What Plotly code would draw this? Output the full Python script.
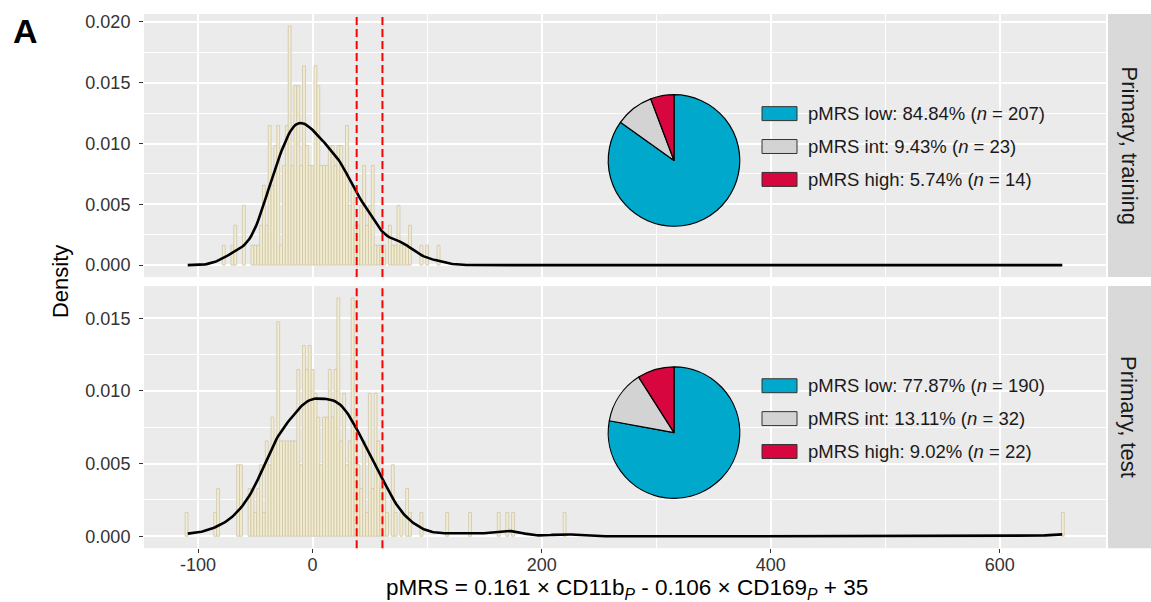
import numpy as np
import plotly.graph_objects as go

W, H = 1151, 602
BIN_WIDTH = 2.5

# Training cohort: patients per 2.5-wide pMRS bin, first bin centred at -77.5
train_bin_start = -77.5
train_counts = [1, 0, 0, 1, 2, 0, 0, 3,
                0, 0, 1, 1, 1, 2, 4, 2,
                7, 4, 6, 7, 1, 5, 7, 12,
                5, 9, 9, 5, 10, 6, 5, 5,
                10, 9, 5, 5, 5, 6, 6, 5,
                6, 6, 5, 7, 3, 4, 2, 2,
                3, 5, 2, 3, 5, 1, 1, 1,
                1, 0, 2, 1, 1, 3, 1, 1,
                1, 2, 0, 0, 0, 1, 0, 1,
                0, 0, 0, 1]

# Test cohort: first bin centred at -110, plus a few isolated high scores
test_bin_start = -110.0
test_counts = [1, 0, 0, 0, 0, 0, 0, 0,
               0, 0, 1, 2, 0, 0, 0, 0,
               0, 0, 3, 3, 0, 0, 2, 2,
               1, 2, 3, 1, 4, 3, 5, 4,
               9, 4, 4, 4, 4, 4, 4, 7,
               3, 8, 7, 8, 7, 6, 5, 3,
               5, 5, 7, 5, 7, 10, 4, 6,
               3, 4, 10, 5, 3, 2, 4, 1,
               6, 2, 6, 4, 2, 2, 1, 0,
               3, 1, 0, 1, 0, 2, 1, 0,
               0, 0, 1, 0, 0, 0, 0, 0,
               0, 0, 0, 1, 0, 0, 0, 0,
               0, 0, 0, 1]
test_far_bins = [162.5, 170.0, 175.0, 220.0, 655.0]
test_far_counts = [1, 1, 1, 1, 1]

# observed pMRS range over both cohorts; density curves span it
pmrs_min, pmrs_max = -109.0, 654.5
cutoffs = [38.5, 61.0]

group_labels = ["pMRS low", "pMRS int", "pMRS high"]
group_colors = ["#00A8CC", "#D3D3D3", "#D7063F"]
train_group_n = [207, 23, 14]
test_group_n = [190, 32, 22]

panel_titles = ["Primary, training", "Primary, test"]
x_breaks = [-100, 0, 200, 400, 600]
x_minor = [100, 300, 500]

FONT = "Liberation Sans, Arial, Helvetica, sans-serif"
TXT = "#333333"

# panel boxes in pixels: (left, right, top, bottom)
panels = [(144, 1106, 12, 276), (144, 1106, 285, 548)]
pie_boxes = [(674, 159, 66), (674, 432, 66)]
legend_rows = [[112, 145, 178], [385, 418, 451]]


def px(x):
    return x / W


def py(y):
    return 1 - y / H


def binned(start, counts, far_c=(), far_n=()):
    c = start + BIN_WIDTH * np.arange(len(counts))
    c = np.concatenate([c, np.asarray(far_c, float)])
    n = np.concatenate([np.asarray(counts, float), np.asarray(far_n, float)])
    return c, n


def kde(sample, grid):
    sd = sample.std(ddof=1)
    q75, q25 = np.percentile(sample, [75, 25])
    bw = 0.9 * min(sd, (q75 - q25) / 1.34) * len(sample) ** -0.2
    z = (grid[:, None] - sample[None, :]) / bw
    return np.exp(-0.5 * z ** 2).sum(1) / (len(sample) * bw * np.sqrt(2 * np.pi))


cohorts = [
    binned(train_bin_start, train_counts),
    binned(test_bin_start, test_counts, test_far_bins, test_far_counts),
]
group_ns = [train_group_n, test_group_n]

grid = np.linspace(pmrs_min, pmrs_max, 512)
span = pmrs_max - pmrs_min
x_range = [pmrs_min - 0.05 * span, pmrs_max + 0.05 * span]

fig = go.Figure()
layout_axes = {}
shapes = []
annotations = []

for i, (centers, counts) in enumerate(cohorts):
    k = "" if i == 0 else "2"
    total = counts.sum()
    dens = counts / (total * BIN_WIDTH)
    sample = np.repeat(centers, counts.astype(int))
    curve = kde(sample, grid)
    keep = counts > 0

    fig.add_trace(go.Bar(
        x=centers[keep], y=dens[keep], width=BIN_WIDTH,
        marker=dict(color="#F3ECCF", line=dict(color="#C8C1A6", width=0.7)),
        xaxis="x" + k, yaxis="y" + k, showlegend=False, hoverinfo="skip",
    ))
    fig.add_trace(go.Scatter(
        x=grid, y=curve, mode="lines", line=dict(color="black", width=2.6),
        xaxis="x" + k, yaxis="y" + k, showlegend=False, hoverinfo="skip",
    ))

    ymax = max(dens.max(), curve.max())
    y_range = [-0.05 * ymax, 1.05 * ymax]
    y_ticks = [v for v in np.arange(0, 0.0201, 0.005) if v <= y_range[1]]
    y_minor = [v for v in np.arange(0.0025, 0.0226, 0.005) if v <= y_range[1]]

    l, r, t, b = panels[i]
    layout_axes["xaxis" + k] = dict(
        domain=[px(l), px(r)], range=x_range, anchor="y" + k,
        tickmode="array", tickvals=x_breaks, ticktext=[str(v) for v in x_breaks],
        showticklabels=(i == 1), ticks="outside" if i == 1 else "",
        ticklen=4, tickwidth=1, tickcolor=TXT, ticklabelstandoff=-4,
        tickfont=dict(family=FONT, size=18, color=TXT),
        showgrid=True, gridcolor="white", gridwidth=1.8, zeroline=False,
        minor=dict(tickmode="array", tickvals=x_minor, showgrid=True,
                   gridcolor="white", gridwidth=0.9, ticks=""),
        fixedrange=True,
    )
    layout_axes["yaxis" + k] = dict(
        domain=[py(b), py(t)], range=y_range, anchor="x" + k,
        tickmode="array", tickvals=y_ticks, ticktext=[f"{v:.3f}" for v in y_ticks],
        ticks="outside", ticklen=4, tickwidth=1, tickcolor=TXT,
        ticklabelstandoff=5,
        tickfont=dict(family=FONT, size=18, color=TXT),
        showgrid=True, gridcolor="white", gridwidth=1.8, zeroline=False,
        minor=dict(tickmode="array", tickvals=y_minor, showgrid=True,
                   gridcolor="white", gridwidth=0.9, ticks=""),
        fixedrange=True,
    )

    # cut-off lines
    for c in cutoffs:
        shapes.append(dict(type="line", xref="x" + k, yref=f"y{k} domain",
                           x0=c, x1=c, y0=0, y1=1, layer="above",
                           line=dict(color="#FF0000", width=2, dash="8px,4px")))

    # facet strip
    shapes.append(dict(type="rect", xref="paper", yref="paper",
                       x0=px(1108), x1=px(1151), y0=py(b), y1=py(t),
                       fillcolor="#D9D9D9", line=dict(width=0), layer="below"))
    annotations.append(dict(text=panel_titles[i], xref="paper", yref="paper",
                            x=px(1129), y=py((t + b) / 2), showarrow=False,
                            textangle=90, xanchor="center", yanchor="middle",
                            font=dict(family=FONT, size=22, color="#1A1A1A")))

    # group pie
    cx, cy, rad = pie_boxes[i]
    ns = group_ns[i]
    fig.add_trace(go.Pie(
        values=ns, labels=group_labels, sort=False, direction="clockwise",
        rotation=0, textinfo="none", hoverinfo="skip", showlegend=False,
        marker=dict(colors=group_colors, line=dict(color="black", width=1.2)),
        domain=dict(x=[px(cx - rad), px(cx + rad)], y=[py(cy + rad), py(cy - rad)]),
    ))

    # group key
    n_all = sum(ns)
    for lab, col, n, ry in zip(group_labels, group_colors, ns, legend_rows[i]):
        shapes.append(dict(type="rect", xref="paper", yref="paper",
                           x0=px(762), x1=px(797), y0=py(ry + 7), y1=py(ry - 7),
                           fillcolor=col, line=dict(color="#333333", width=1),
                           layer="above"))
        annotations.append(dict(
            text=f"{lab}: {100 * n / n_all:.2f}% (<i>n</i> = {n})",
            xref="paper", yref="paper", x=px(806), y=py(ry), showarrow=False,
            xanchor="left", yanchor="middle",
            font=dict(family=FONT, size=18.5, color="#1A1A1A")))

annotations += [
    dict(text="Density", xref="paper", yref="paper", x=px(60), y=py(280),
         textangle=-90, showarrow=False, xanchor="center", yanchor="middle",
         font=dict(family=FONT, size=22, color="black")),
    dict(text="pMRS = 0.161 × CD11b<sub><i>P</i></sub> - 0.106 × CD169<sub><i>P</i></sub> + 35",
         xref="paper", yref="paper", x=px(627), y=py(573), showarrow=False,
         xanchor="center", yanchor="top",
         font=dict(family=FONT, size=22.5, color="black")),
    dict(text="<b>A</b>", xref="paper", yref="paper", x=px(25), y=py(29),
         showarrow=False, xanchor="center", yanchor="middle",
         font=dict(family=FONT, size=34, color="black")),
]

fig.update_layout(
    width=W, height=H, margin=dict(l=0, r=0, t=0, b=0),
    paper_bgcolor="white", plot_bgcolor="#EBEBEB",
    barmode="overlay", shapes=shapes, annotations=annotations,
    font=dict(family=FONT), **layout_axes,
)

fig.write_html("out.html")
